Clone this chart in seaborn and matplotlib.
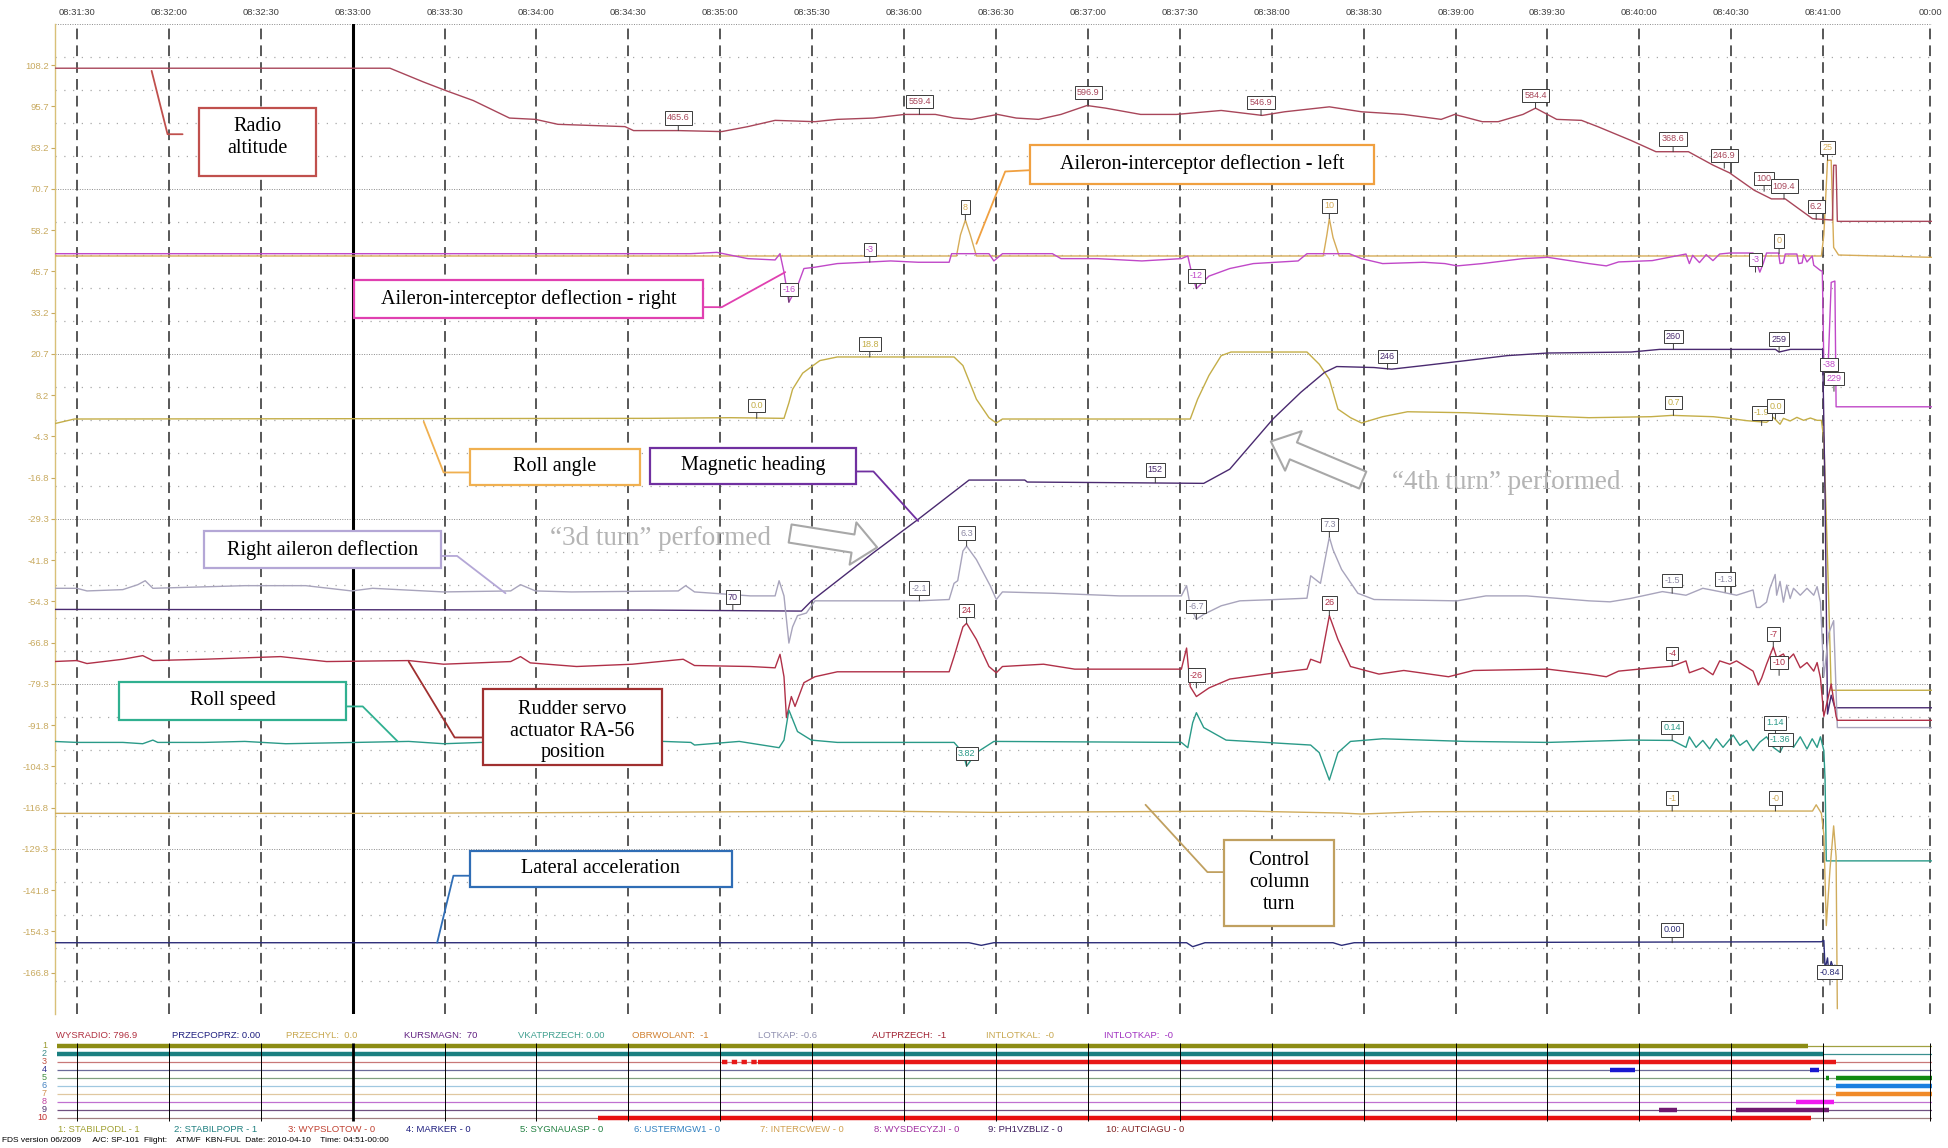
import numpy as np
import pandas as pd
import matplotlib
matplotlib.use('Agg')
import matplotlib.pyplot as plt
from matplotlib.patches import Rectangle
from matplotlib import transforms
import seaborn as sns


# time axis: seconds after 08:31:30, values in the recorder's display units
TIME_TICKS = [0, 30, 60, 90, 120, 150, 180, 210, 240, 270, 300, 330, 360, 390, 420, 450, 480, 510, 540, 570, 605]
TIME_LABELS = ['08:31:30', '08:32:00', '08:32:30', '08:33:00', '08:33:30', '08:34:00', '08:34:30',
               '08:35:00', '08:35:30', '08:36:00', '08:36:30', '08:37:00', '08:37:30', '08:38:00',
               '08:38:30', '08:39:00', '08:39:30', '08:40:00', '08:40:30', '08:41:00', '00:00']
Y_TICKS = [108.2, 95.7, 83.2, 70.7, 58.2, 45.7, 33.2, 20.7, 8.2, -4.3, -16.8, -29.3, -41.8, -54.3,
           -66.8, -79.3, -91.8, -104.3, -116.8, -129.3, -141.8, -154.3, -166.8]

RADIO = [(-7.7, 107.3), (102.2, 107.3), (113.2, 103.1), (120.5, 100.5), (129.4, 97.5), (141.2, 92.2),
         (149.7, 91.8), (157.0, 90.3), (178.9, 89.6), (181.7, 88.4), (196.3, 88.4), (210.5, 88.1),
         (219.0, 89.6), (227.9, 91.5), (240.9, 91.1), (248.2, 91.8), (260.0, 92.2), (270.1, 93.3),
         (280.2, 93.3), (286.3, 92.2), (292.0, 91.8), (300.5, 93.3), (306.6, 92.2), (313.9, 91.8),
         (321.2, 93.3), (329.7, 96.0), (335.8, 95.2), (347.2, 93.3), (358.9, 93.3), (373.5, 94.5),
         (386.9, 93.0), (394.2, 94.1), (408.8, 95.6), (419.3, 94.1), (433.1, 93.3), (445.3, 91.8),
         (449.7, 93.3), (458.7, 91.1), (463.9, 91.1), (472.0, 93.3), (476.1, 95.2), (483.0, 91.8),
         (491.1, 91.5), (496.4, 89.6), (507.3, 85.4), (515.4, 82.0), (526.0, 82.0), (534.1, 77.9),
         (539.4, 75.6), (547.5, 70.3), (553.1, 67.7), (557.6, 67.7), (566.5, 61.7), (573.0, 61.3),
         (573.4, 77.9), (574.2, 77.9), (574.6, 60.9), (605.4, 60.9)]

AIL_LEFT = [(-7.7, 50.4), (287.1, 50.4), (288.4, 56.8), (290.0, 61.3), (291.6, 56.8), (293.6, 50.4),
            (406.8, 50.4), (408.0, 56.8), (408.8, 61.7), (410.0, 56.0), (412.0, 50.4), (569.4, 50.4),
            (570.2, 56.8), (571.4, 79.4), (572.6, 79.4), (573.4, 53.0), (575.0, 50.7), (605.4, 50.0)]

AIL_RIGHT = [(-7.7, 51.1), (187.0, 51.1), (200.4, 51.1), (208.9, 51.5), (219.0, 49.6), (227.9, 49.2),
             (229.5, 51.1), (230.8, 45.5), (232.4, 36.4), (235.2, 41.3), (237.3, 46.6), (240.9, 47.0),
             (248.2, 48.1), (257.1, 48.5), (265.6, 48.9), (274.6, 48.5), (284.7, 48.5), (285.5, 51.1),
             (297.7, 51.1), (299.3, 48.9), (302.1, 51.1), (318.4, 51.1), (321.2, 49.6), (333.0, 49.6),
             (347.6, 48.9), (360.5, 49.6), (362.6, 50.4), (363.8, 45.5), (365.4, 40.5), (369.5, 44.3),
             (376.3, 46.6), (384.0, 48.1), (398.6, 48.9), (401.5, 51.1), (415.3, 51.1), (419.3, 49.6),
             (426.2, 48.1), (439.6, 48.5), (446.5, 48.1), (450.5, 47.4), (458.7, 48.1), (472.0, 49.6),
             (480.1, 50.0), (493.5, 48.1), (499.2, 47.4), (503.2, 48.6), (514.2, 49.0), (525.2, 51.0),
             (526.3, 48.1), (527.4, 50.6), (529.6, 48.4), (531.8, 50.8), (534.0, 49.0), (536.2, 51.0),
             (539.5, 51.3), (547.1, 51.3), (548.2, 48.6), (549.3, 45.5), (550.4, 48.1), (551.5, 51.3),
             (555.4, 51.3), (555.9, 48.1), (557.0, 48.3), (557.6, 51.0), (561.4, 51.0), (562.0, 48.1),
             (563.1, 48.3), (563.6, 50.8), (564.7, 48.6), (566.4, 50.4), (566.9, 47.6), (569.1, 46.0),
             (569.7, 45.8), (570.2, 17.2), (571.4, 11.9), (572.6, 42.4), (573.8, 42.8), (574.2, 4.7),
             (605.4, 4.7)]

ROLL = [(-7.7, -0.5), (-0.8, 1.0), (187.0, 1.2), (213.3, 1.4), (230.8, 1.2), (232.4, 5.9), (233.6, 10.0),
        (236.9, 14.9), (242.5, 18.7), (248.2, 19.8), (286.3, 19.8), (289.2, 17.2), (293.6, 7.0),
        (297.7, 1.4), (300.1, -0.2), (302.1, 1.0), (363.4, 1.0), (365.8, 7.0), (369.5, 14.2),
        (373.5, 20.2), (376.7, 21.3), (401.5, 21.3), (405.5, 17.6), (408.8, 13.0), (411.6, 4.0),
        (415.7, 1.4), (419.3, -0.2), (426.2, 1.7), (434.3, 3.2), (453.4, 2.9), (473.6, 2.1),
        (493.5, 1.4), (513.8, 1.7), (520.7, 2.1), (534.1, 1.7), (541.0, 1.0), (545.0, 0.5),
        (551.5, 0.0), (553.7, 1.5), (555.9, -0.6), (557.0, 1.2), (559.2, 0.4), (561.4, 1.5),
        (563.6, 0.6), (565.8, 1.3), (568.0, 0.6), (569.4, 0.6), (570.2, -5.1), (571.4, -41.3),
        (572.6, -81.2), (605.4, -81.2)]

HEADING = [(-7.7, -56.7), (187.0, -56.9), (236.5, -57.2), (239.7, -54.2), (260.0, -39.5), (274.6, -29.4),
           (291.2, -17.5), (309.4, -17.5), (310.2, -18.1), (340.3, -18.3), (367.8, -18.5), (376.3, -14.2),
           (390.5, 1.1), (399.5, 9.1), (407.2, 15.1), (411.2, 16.9), (423.4, 16.6), (429.1, 16.1),
           (439.6, 17.2), (453.4, 18.7), (466.8, 20.2), (480.1, 21.0), (507.3, 21.3), (516.6, 22.1),
           (554.4, 22.1), (555.6, 21.3), (559.3, 22.1), (569.8, 22.1), (570.6, -22.4), (571.4, -88.4),
           (572.6, -82.7), (573.8, -86.5), (605.4, -86.5)]

RIGHT_AIL = [(-7.7, -50.3), (0.0, -50.3), (3.3, -51.1), (15.0, -50.7), (19.9, -49.2), (22.3, -48.0),
             (24.8, -50.3), (54.8, -49.5), (74.7, -49.5), (89.7, -51.1), (96.5, -50.3), (119.7, -51.4),
             (141.6, -51.1), (144.8, -49.2), (149.7, -51.1), (161.4, -51.4), (196.3, -51.1), (198.7, -49.5),
             (201.6, -51.4), (219.8, -52.6), (227.9, -52.6), (229.2, -48.0), (230.8, -52.6), (232.4, -66.9),
             (233.6, -62.0), (235.2, -58.6), (238.1, -57.8), (240.9, -54.1), (274.6, -54.1), (284.7, -53.7),
             (286.3, -48.8), (287.5, -48.0), (289.2, -39.0), (290.4, -37.5), (293.6, -41.6), (298.1, -49.5),
             (300.1, -53.7), (302.1, -51.4), (318.4, -51.8), (340.3, -52.6), (360.5, -52.6), (362.2, -49.5),
             (363.4, -55.6), (365.4, -59.7), (367.8, -58.2), (373.5, -55.6), (379.6, -54.1), (391.3, -53.7),
             (401.5, -53.3), (402.7, -46.5), (405.9, -48.8), (408.8, -34.8), (410.0, -38.6), (412.8, -44.6),
             (418.1, -51.8), (423.4, -53.7), (450.5, -54.1), (459.9, -52.6), (473.2, -52.6), (493.5, -54.1),
             (500.4, -54.4), (507.0, -53.4), (517.5, -51.3), (525.2, -52.4), (530.7, -50.3), (536.2, -51.3),
             (541.7, -52.4), (547.1, -50.8), (548.2, -56.1), (549.3, -56.1), (551.5, -54.5), (552.6, -50.3),
             (554.3, -46.1), (554.8, -52.4), (555.9, -48.2), (557.0, -54.5), (558.1, -49.3), (559.2, -53.4),
             (560.3, -50.3), (562.5, -52.4), (564.7, -50.3), (566.9, -52.4), (568.0, -49.8), (569.1, -54.5),
             (570.2, -77.1), (571.8, -63.9), (573.4, -60.1), (574.6, -92.5), (605.4, -92.5)]

RUDDER = [(-7.7, -72.5), (0.0, -72.2), (3.3, -73.1), (15.0, -71.8), (21.5, -70.7), (24.8, -72.2),
          (41.4, -71.8), (66.5, -71.0), (81.5, -72.5), (108.3, -72.2), (119.7, -73.3), (141.6, -72.5),
          (144.8, -71.0), (148.0, -72.9), (163.1, -74.0), (181.3, -73.3), (197.9, -71.8), (201.6, -73.7),
          (219.8, -74.0), (227.9, -74.4), (229.5, -70.3), (230.8, -77.1), (231.6, -89.5), (233.2, -83.1),
          (234.4, -86.1), (237.3, -78.9), (240.9, -77.1), (248.2, -75.6), (274.6, -75.6), (284.7, -75.6),
          (286.3, -71.0), (289.2, -62.0), (290.4, -60.9), (293.6, -65.8), (297.7, -74.0), (300.1, -75.9),
          (302.1, -74.0), (315.5, -73.3), (325.7, -74.8), (360.5, -74.8), (362.2, -68.4), (363.4, -80.1),
          (365.4, -83.1), (369.5, -80.5), (376.3, -77.8), (391.3, -75.9), (401.5, -74.8), (402.7, -71.8),
          (405.9, -72.9), (408.8, -58.6), (411.6, -65.8), (415.7, -74.0), (425.0, -76.3), (433.1, -75.2),
          (447.7, -77.1), (455.8, -75.2), (480.1, -74.8), (493.5, -76.3), (499.2, -77.1), (503.2, -75.4),
          (514.2, -74.4), (520.8, -73.9), (525.2, -72.3), (526.3, -75.9), (530.7, -74.4), (534.0, -76.5),
          (536.2, -72.3), (539.5, -73.3), (541.7, -72.3), (547.1, -75.4), (548.8, -79.6), (549.9, -77.5),
          (551.5, -73.3), (553.7, -68.1), (554.8, -71.3), (557.0, -70.2), (558.1, -72.3), (560.3, -70.2),
          (562.5, -74.4), (564.7, -72.8), (566.9, -75.4), (568.0, -72.8), (569.1, -77.5), (570.2, -89.1),
          (571.4, -84.2), (572.6, -79.3), (574.2, -89.1), (574.6, -90.3), (605.4, -90.3)]

ROLL_SPEED = [(-7.7, -96.7), (0.0, -97.0), (15.0, -97.0), (21.5, -97.4), (24.8, -96.3), (26.4, -97.0),
              (41.4, -97.0), (54.8, -96.7), (68.2, -97.4), (91.3, -97.0), (108.3, -96.7), (119.7, -97.4),
              (141.6, -96.7), (157.4, -97.0), (191.4, -96.7), (200.4, -97.0), (201.6, -97.8), (216.2, -96.7),
              (229.2, -98.6), (230.8, -96.3), (232.4, -87.2), (235.2, -93.7), (239.7, -96.3), (248.2, -97.0),
              (286.3, -97.0), (289.2, -100.1), (290.4, -104.2), (293.6, -100.1), (299.3, -96.7),
              (360.5, -97.0), (362.6, -98.6), (364.2, -91.0), (365.4, -88.0), (367.8, -92.5), (375.1, -96.3),
              (402.7, -97.8), (405.5, -100.1), (408.8, -108.4), (411.6, -100.1), (415.7, -96.7),
              (426.2, -95.9), (453.4, -96.7), (480.1, -97.0), (507.3, -96.3), (520.8, -96.4), (525.2, -98.5),
              (526.3, -95.3), (528.5, -98.5), (530.7, -96.4), (532.9, -99.0), (535.1, -95.9), (537.3, -98.5),
              (540.6, -94.8), (542.8, -97.9), (545.0, -96.4), (547.1, -99.5), (549.3, -96.9), (551.5, -95.3),
              (553.7, -98.5), (555.9, -100.0), (558.1, -95.9), (560.3, -98.5), (562.5, -95.3), (564.7, -99.0),
              (566.4, -95.9), (568.0, -98.5), (569.1, -95.3), (570.2, -99.5), (570.6, -108.4), (571.0, -132.9),
              (605.4, -132.9)]

CONTROL = [(-7.7, -118.5), (96.5, -118.5), (177.7, -118.2), (258.8, -117.8), (299.3, -118.2),
           (380.4, -117.8), (412.8, -118.4), (419.3, -118.7), (439.6, -118.0), (520.7, -117.8),
           (566.5, -117.8), (567.7, -115.9), (569.4, -118.5), (570.2, -124.9), (571.0, -152.5),
           (572.2, -135.5), (573.4, -122.3), (574.2, -131.7), (574.6, -177.7)]

LATERAL = [(-7.7, -157.7), (291.2, -157.7), (295.2, -158.5), (299.3, -157.7), (362.2, -157.7),
           (364.2, -158.9), (368.2, -157.7), (410.0, -157.7), (412.8, -158.5), (416.9, -157.7),
           (569.4, -157.4), (570.2, -157.0), (570.6, -165.7), (571.4, -162.3), (571.8, -166.8),
           (572.6, -163.4), (573.4, -165.7), (573.8, -164.5)]

C_RADIO, C_AILL, C_AILR, C_ROLL = '#a8465a', '#d6ac58', '#c048c8', '#c4ae48'
C_HEAD, C_RAIL, C_RUD, C_RSPD = '#4a2a70', '#a8a4bc', '#b03048', '#2a9a88'
C_CTRL, C_LAT = '#d0ac5c', '#2c2c78'

TRACES = [(AIL_LEFT, C_AILL), (AIL_RIGHT, C_AILR), (RADIO, C_RADIO), (ROLL, C_ROLL), (HEADING, C_HEAD),
          (RIGHT_AIL, C_RAIL), (RUDDER, C_RUD), (ROLL_SPEED, C_RSPD), (CONTROL, C_CTRL), (LATERAL, C_LAT)]

# value flags hanging on the traces: (t, v, text, colour)
TAGS = [(196.3, 88.4, '465.6', C_RADIO), (275.0, 93.3, '559.4', C_RADIO), (330.1, 96.0, '596.9', C_RADIO),
        (386.5, 93.0, '546.9', C_RADIO), (476.1, 95.2, '584.4', C_RADIO), (521.0, 82.0, '368.6', C_RADIO),
        (537.7, 77.0, '246.9', C_RADIO), (550.7, 70.0, '100', C_RADIO), (557.2, 67.7, '109.4', C_RADIO),
        (567.7, 61.5, '6.2', C_RADIO),
        (290.0, 61.3, '8', C_AILL), (408.8, 61.7, '10', C_AILL), (555.6, 51.1, '0', C_AILL),
        (571.4, 79.4, '25', C_AILL),
        (232.4, 36.4, '-16', C_AILR), (258.8, 48.5, '-3', C_AILR), (365.4, 40.5, '-12', C_AILR),
        (547.9, 45.5, '-3', C_AILR),
        (221.9, 1.2, '0.0', C_ROLL), (258.8, 19.8, '18.8', C_ROLL), (521.1, 2.1, '0.7', C_ROLL),
        (549.9, -1.0, '-1.9', C_ROLL), (554.4, 1.0, '0.0', C_ROLL),
        (214.1, -56.9, '70', C_HEAD), (352.0, -18.3, '152', C_HEAD), (427.8, 16.1, '246', C_HEAD),
        (521.1, 22.1, '260', C_HEAD), (555.6, 21.3, '259', C_HEAD), (571.9, 13.6, '-38', C_AILR),
        (573.5, 9.4, '229', C_AILR),
        (275.0, -54.1, '-2.1', '#8c88a4'), (290.4, -37.5, '6.3', '#8c88a4'), (365.4, -59.7, '-6.7', '#8c88a4'),
        (408.8, -34.8, '7.3', '#8c88a4'), (520.7, -51.8, '-1.5', '#8c88a4'), (538.0, -51.4, '-1.3', '#8c88a4'),
        (290.4, -60.9, '24', C_RUD), (365.4, -80.5, '-26', C_RUD), (408.8, -58.6, '26', C_RUD),
        (520.7, -73.9, '-4', C_RUD), (553.7, -68.1, '-7', C_RUD), (555.6, -76.7, '-10', C_RUD),
        (290.4, -104.2, '3.82', C_RSPD), (520.7, -96.4, '0.14', C_RSPD), (554.4, -95.0, '1.14', C_RSPD),
        (556.0, -100.0, '-1.36', C_RSPD),
        (520.7, -117.8, '-1', C_CTRL), (554.4, -117.8, '-0', C_CTRL),
        (520.7, -157.7, '0.00', C_LAT), (572.2, -170.5, '-0.84', C_LAT)]

# callout boxes: text, (t0, t1, v_low, v_high), text centre v, edge colour, leader line
CALLOUTS = [
    ('Radio\naltitude', (39.8, 77.9, 74.5, 95.2), 86.4, '#c0504d', [(34.5, 87.3), (29.6, 87.3), (24.4, 106.5)]),
    ('Aileron-interceptor deflection - left', (311.1, 423.4, 72.2, 83.9), 78.3, '#f0a040',
     [(311.1, 76.4), (303.0, 76.0), (293.6, 54.1)]),
    ('Aileron-interceptor deflection - right', (90.5, 204.4, 31.5, 43.2), 37.5, '#e040b0',
     [(204.4, 34.9), (210.5, 34.9), (231.2, 45.5)]),
    ('Roll angle', (128.2, 183.7, -19.0, -8.1), -13.4, '#f0b050', [(128.2, -15.2), (119.7, -15.2), (113.2, 0.2)]),
    ('Magnetic heading', (187.0, 254.3, -18.6, -7.7), -13.0, '#7030a0',
     [(254.3, -14.9), (260.0, -14.9), (274.6, -29.9)]),
    ('Right aileron deflection', (41.4, 118.9, -44.3, -33.0), -38.6, '#b4a7d6',
     [(118.9, -40.5), (124.1, -40.5), (139.9, -51.8)]),
    ('Roll speed', (13.8, 88.0, -90.3, -78.6), -84.2, '#30b090', [(88.0, -86.1), (93.3, -86.1), (104.7, -96.7)]),
    ('Rudder servo\nactuator RA-56\nposition', (132.6, 191.0, -103.8, -80.8), -93.6, '#a03030',
     [(132.6, -95.5), (123.3, -95.5), (108.3, -72.5)]),
    ('Lateral acceleration', (128.2, 213.7, -140.8, -129.8), -135.1, '#2f6db5',
     [(128.2, -137.4), (122.9, -137.4), (117.6, -157.7)]),
    ('Control\ncolumn\nturn', (374.3, 410.4, -152.5, -126.5), -139.5, '#c0a060',
     [(374.3, -136.3), (369.0, -136.3), (348.8, -115.9)]),
]

TURN_NOTES = [('\u201c3d turn\u201d performed', (190.6, -35.2), (232.8, -33.7), (261.2, -37.9)),
              ('\u201c4th turn\u201d performed', (466.4, -18.3), (419.7, -17.5), (389.7, -5.8))]

# discrete channel strip
CH_NUM = [1, 2, 3, 4, 5, 6, 7, 8, 9, 10]
CH_THIN = ['#a0a040', '#3a9090', '#c87878', '#6a6a9a', '#80a080', '#a0c8e0', '#e0c8a0', '#c070d0', '#705080', '#a08080']
CH_NUM_COL = ['#9a9a30', '#3a8a8a', '#c05040', '#303090', '#409040', '#4080c0', '#d09050', '#c040a0', '#503070', '#c03030']
BAR_CH = [1, 2, 3, 4, 4, 5, 5, 6, 7, 8, 9, 9, 10]
BAR_T0 = [-6.5, -6.5, 222.3, 500.4, 565.7, 571.0, 574.2, 574.2, 574.2, 561.1, 516.4, 541.5, 170.1]
BAR_T1 = [565.0, 570.2, 574.2, 508.5, 568.6, 571.8, 605.4, 605.4, 605.4, 573.5, 522.2, 571.9, 566.0]
BAR_COL = ['#8c8c14', '#1a7f80', '#e81818', '#1818d0', '#1818d0', '#128a12', '#128a12', '#1a7fe0',
           '#f08a28', '#f018f0', '#701a70', '#701a70', '#e81010']

HEADER = ['WYSRADIO: 796.9', 'PRZECPOPRZ: 0.00', 'PRZECHYL:  0.0', 'KURSMAGN:  70', 'VKATPRZECH: 0.00',
          'OBRWOLANT:  -1', 'LOTKAP: -0.6', 'AUTPRZECH:  -1', 'INTLOTKAL:  -0', 'INTLOTKAP:  -0']
HEADER_COL = ['#b03040', '#202080', '#c8a850', '#602080', '#40a090', '#d08030', '#9090b0', '#a02030',
              '#c8a850', '#a030c0']
CH_NAMES = ['1: STABILPODL - 1', '2: STABILPOPR - 1', '3: WYPSLOTOW - 0', '4: MARKER - 0', '5: SYGNAUASP - 0',
            '6: USTERMGW1 - 0', '7: INTERCWEW - 0', '8: WYSDECYZJI - 0', '9: PH1VZBLIZ - 0', '10: AUTCIAGU - 0']
CH_NAME_COL = ['#a0a030', '#208080', '#c04030', '#202080', '#208040', '#3080c0', '#d0a050', '#a030a0',
               '#402060', '#802020']
HEADER_X = [56, 172, 286, 404, 518, 632, 758, 872, 986, 1104]
FOOTER = 'FDS version 06/2009     A/C: SP-101  Flight:    ATM/F  KBN-FUL  Date: 2010-04-10    Time: 04:51-00:00'

W, H = 1948, 1148
sns.set_theme(style='white')
plt.rcParams['font.family'] = ['Liberation Sans', 'DejaVu Sans']
SERIF = ['Liberation Serif', 'DejaVu Serif']


def draw_trace(ax, pts, color):
    df = pd.DataFrame(pts, columns=['t', 'v'])
    sns.lineplot(data=df, x='t', y='v', sort=False, estimator=None, color=color,
                 lw=1.0, ax=ax, zorder=4)


def tag(ax, t, v, txt, col):
    ax.annotate(txt, xy=(t, v), xytext=(0, 6), textcoords='offset points', ha='center', va='bottom',
                fontsize=6.5, color=col, zorder=9,
                bbox=dict(boxstyle='square,pad=0.25', fc='white', ec='#3a3a3a', lw=0.7),
                arrowprops=dict(arrowstyle='-', color='#3a3a3a', lw=0.7, shrinkA=0, shrinkB=0))


fig = plt.figure(figsize=(W / 100, H / 100), dpi=100)
ax = fig.add_axes([54.5 / W, 1 - 1014 / H, 1877.5 / W, 990 / H])
ax.set_xlim(-7.3, 605.5)
ax.set_ylim(-179.3, 120.7)

# horizontal dotted grid every 10 units, denser every 50
for g in np.arange(120.7, -180, -10.0):
    dense = abs(((70.7 - g) / 50.0) - round((70.7 - g) / 50.0)) < 1e-6
    ax.axhline(g, color='#8a8a8a' if dense else '#a8a8a8', lw=0.7 if dense else 0.9,
               ls=(0, (1, 1.5)) if dense else (0, (1, 6)), zorder=1)

for t in TIME_TICKS:
    if t == 90:
        ax.axvline(t, color='black', lw=2.2, zorder=2)
    else:
        ax.axvline(t, color='#2a2a2a', lw=1.1, ls=(0, (7, 4)), zorder=2)

for pts, col in TRACES:
    draw_trace(ax, pts, col)

for t, v, txt, col in TAGS:
    tag(ax, t, v, txt, col)

for txt, (t0, t1, v0, v1), vc, col, lead in CALLOUTS:
    ax.add_patch(Rectangle((t0, v0), t1 - t0, v1 - v0, fc='white', ec=col, lw=1.6, zorder=7))
    ax.text((t0 + t1) / 2, vc, txt, ha='center', va='center', fontsize=14.5, family=SERIF,
            color='black', linespacing=1.2, zorder=8)
    ax.plot([p[0] for p in lead], [p[1] for p in lead], color=col, lw=1.3, zorder=6)

for txt, (tc, vc), tail, head in TURN_NOTES:
    ax.text(tc, vc, txt, ha='center', va='center', fontsize=19.5, family=SERIF, color='#b4b4b4', zorder=7)
    ax.annotate('', xy=head, xytext=tail, zorder=7,
                arrowprops=dict(arrowstyle='simple,head_length=0.8,head_width=1.4,tail_width=0.6',
                                mutation_scale=22, fc='white', ec='#a8a8a8', lw=1.5,
                                shrinkA=0, shrinkB=0))

ax.set_xlabel('')
ax.set_ylabel('')
ax.set_xticks(TIME_TICKS)
ax.set_xticklabels(TIME_LABELS)
ax.set_yticks(Y_TICKS)
ax.set_yticklabels([f'{y:.1f}' for y in Y_TICKS])
ax.xaxis.tick_top()
ax.tick_params(axis='x', length=0, labelsize=6.8, labelcolor='#404040', pad=5)
ax.tick_params(axis='y', left=True, length=3, width=0.8, color='#c8aa60', labelsize=6.8,
               labelcolor='#c8aa60', pad=1)
for side in ['top', 'right', 'bottom']:
    ax.spines[side].set_visible(False)
ax.spines['left'].set_color('#d8c078')
ax.spines['left'].set_linewidth(1.0)

# discrete channel strip
ax2 = fig.add_axes([54.5 / W, 1 - 1122 / H, 1877.5 / W, 80 / H])
ax2.set_xlim(-7.3, 605.5)
ax2.set_ylim(10.5, 0.5)
ax2.axis('off')
ax2.hlines(CH_NUM, -6.5, 605.4, colors=CH_THIN, lw=0.9, zorder=1)
ax2.hlines(BAR_CH, BAR_T0, BAR_T1, colors=BAR_COL, lw=3.2, zorder=2)
ax2.hlines([3], [210.5], [222.3], colors=['#e81818'], lw=3.2, linestyles=[(0, (1.2, 1.0))], zorder=2)
for t in TIME_TICKS:
    ax2.vlines(t, 0.6, 10.4, color='black', lw=2.0 if t == 90 else 0.7, zorder=3)
blend = transforms.blended_transform_factory(ax2.transAxes, ax2.transData)
for n, col in zip(CH_NUM, CH_NUM_COL):
    ax2.text(-0.004, n, str(n), transform=blend, ha='right', va='center', fontsize=6.5, color=col)

for txt, col, x in zip(HEADER, HEADER_COL, HEADER_X):
    fig.text(x / W, 1 - 1035 / H, txt, color=col, fontsize=6.8, va='center')
for txt, col, x in zip(CH_NAMES, CH_NAME_COL, HEADER_X):
    fig.text((x + 2) / W, 1 - 1129 / H, txt, color=col, fontsize=6.8, va='center')
fig.text(2 / W, 1 - 1140 / H, FOOTER, color='black', fontsize=6, va='center')

fig.savefig('out.png', dpi=100, facecolor='white')
